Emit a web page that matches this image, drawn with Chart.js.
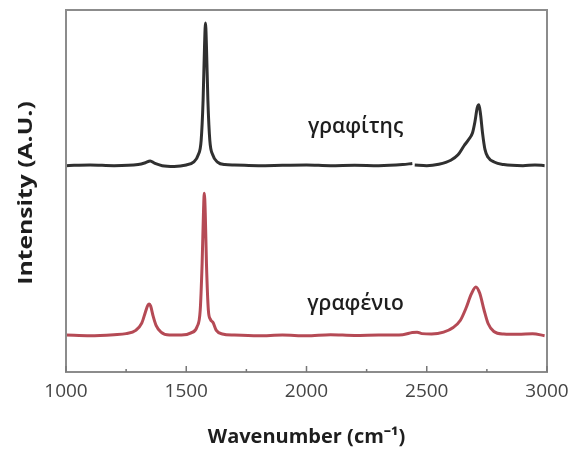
<!DOCTYPE html>
<html>
<head>
<meta charset="utf-8">
<script src="https://cdn.jsdelivr.net/npm/chart.js@4"></script>
<style>
  body { margin: 0; background: #fff; }
  canvas { display: block; }
</style>
</head>
<body>
<canvas id="raman" width="571" height="450"></canvas>
<script>
// Raman spectra, graphite trace sits above the graphene trace (arbitrary offset units)
const graphiteWavenumbers = [1000, 1100, 1200, 1300, 1330, 1350, 1370, 1400, 1450, 1500, 1530, 1550, 1562, 1570, 1576, 1580, 1584, 1590, 1598, 1610, 1630, 1660, 1700, 1800, 1900, 2000, 2100, 2200, 2300, 2400, 2440, 2445, 2450, 2500, 2550, 2600, 2630, 2655, 2675, 2690, 2700, 2710, 2717, 2724, 2732, 2742, 2755, 2780, 2820, 2900, 2950, 2990];
const graphiteIntensity = [57.0, 57.2, 57.0, 57.3, 57.8, 58.3, 57.6, 57.0, 56.8, 57.2, 58.0, 60.0, 64.0, 75.0, 90.0, 96.4, 90.0, 75.0, 64.0, 60.0, 58.0, 57.3, 57.2, 57.0, 57.1, 57.2, 57.0, 57.1, 57.0, 57.3, 57.6, null, 57.2, 57.0, 57.4, 58.5, 60.0, 62.5, 64.3, 66.0, 69.0, 73.0, 73.8, 71.0, 66.0, 61.5, 59.3, 58.0, 57.3, 57.0, 57.2, 57.0];

const grapheneWavenumbers = [1000, 1100, 1200, 1250, 1290, 1315, 1330, 1340, 1346, 1352, 1362, 1375, 1395, 1430, 1480, 1520, 1545, 1558, 1566, 1572, 1575, 1579, 1584, 1592, 1600, 1612, 1625, 1650, 1700, 1800, 1900, 2000, 2100, 2200, 2300, 2400, 2440, 2460, 2480, 2520, 2570, 2610, 2640, 2663, 2685, 2704, 2720, 2738, 2755, 2779, 2820, 2880, 2940, 2990];
const grapheneIntensity = [10.2, 10.0, 10.3, 10.6, 11.5, 13.5, 16.5, 18.4, 18.8, 18.2, 15.5, 12.8, 11.0, 10.2, 10.2, 10.8, 12.5, 17.0, 30.0, 45.0, 49.4, 44.0, 30.0, 17.0, 14.6, 13.6, 11.5, 10.5, 10.2, 10.0, 10.2, 10.0, 10.3, 10.1, 10.2, 10.3, 10.9, 11.0, 10.6, 10.5, 11.0, 12.3, 14.3, 17.6, 21.5, 23.5, 21.8, 17.2, 13.4, 11.2, 10.5, 10.4, 10.6, 10.0];

const majorTicks = [1000, 1500, 2000, 2500, 3000];
const minorTicks = [1250, 1750, 2250, 2750];
const traceNames = ['γραφίτης', 'γραφένιο'];
const yTitle = 'Intensity (A.U.)';

function toPoints(xs, ys) {
  return xs.map((x, i) => ({ x: x, y: ys[i] }));
}

// frame around the plot, inward ticks on the bottom edge, trace names and a stretched y title
const framePlugin = {
  id: 'frame',
  afterDatasetsDraw(chart, args, opts) {
    const { ctx, chartArea: a, scales } = chart;
    ctx.save();
    ctx.strokeStyle = '#8c8c8c';
    ctx.lineWidth = 2;
    ctx.strokeRect(a.left, a.top, a.right - a.left, a.bottom - a.top);

    ctx.lineWidth = 1.5;
    ctx.strokeStyle = '#777';
    ctx.beginPath();
    majorTicks.forEach(v => {
      const x = scales.x.getPixelForValue(v);
      ctx.moveTo(x, a.bottom);
      ctx.lineTo(x, a.bottom - 6);
    });
    minorTicks.forEach(v => {
      const x = scales.x.getPixelForValue(v);
      ctx.moveTo(x, a.bottom);
      ctx.lineTo(x, a.bottom - 3);
    });
    ctx.stroke();

    ctx.fillStyle = '#1e1e1e';
    ctx.font = '600 21px "Open Sans"';
    ctx.textAlign = 'center';
    ctx.textBaseline = 'middle';
    opts.anchors.forEach((p, i) => {
      ctx.fillText(traceNames[i], scales.x.getPixelForValue(p[0]), scales.y.getPixelForValue(p[1]));
    });

    // y title, rotated and drawn a little elongated like the original axis lettering
    ctx.translate(27, (a.top + a.bottom) / 2 + 2);
    ctx.rotate(-Math.PI / 2);
    ctx.scale(1.3, 1);
    ctx.font = 'bold 19px "Open Sans"';
    ctx.fillText(yTitle, 0, 0);
    ctx.restore();
  }
};

new Chart(document.getElementById('raman'), {
  type: 'line',
  data: {
    datasets: [{
      label: traceNames[0],
      data: toPoints(graphiteWavenumbers, graphiteIntensity),
      borderColor: '#303030',
      borderWidth: 3,
      pointRadius: 0,
      cubicInterpolationMode: 'monotone',
      spanGaps: false
    }, {
      label: traceNames[1],
      data: toPoints(grapheneWavenumbers, grapheneIntensity),
      borderColor: '#b54a55',
      borderWidth: 3,
      pointRadius: 0,
      cubicInterpolationMode: 'monotone'
    }]
  },
  options: {
    responsive: false,
    animation: false,
    layout: { padding: { left: 0, right: 24, top: 10, bottom: 0 } },
    plugins: {
      legend: { display: false },
      tooltip: { enabled: false },
      frame: { anchors: [[2204, 67.7], [2204, 18.8]] }
    },
    scales: {
      x: {
        type: 'linear',
        min: 1000,
        max: 3000,
        afterBuildTicks(scale) {
          scale.ticks = majorTicks.map(v => ({ value: v }));
        },
        afterFit(scale) {
          scale.height = 78;
          scale.paddingLeft = 0;
          scale.paddingRight = 0;
        },
        grid: { display: false, drawTicks: false },
        border: { display: false },
        ticks: {
          padding: 8,
          color: '#444',
          font: { family: 'Open Sans', size: 19 },
          callback: v => String(v)
        },
        title: {
          display: true,
          text: 'Wavenumber (cm⁻¹)',
          color: '#1e1e1e',
          font: { family: 'Open Sans', size: 20, weight: 'bold' },
          padding: { top: 0, bottom: 1 }
        }
      },
      y: {
        min: 0,
        max: 100,
        afterFit(scale) { scale.width = 66; },
        grid: { display: false },
        border: { display: false },
        ticks: { display: false },
        title: { display: false }
      }
    }
  },
  plugins: [framePlugin]
});
</script>
</body>
</html>
